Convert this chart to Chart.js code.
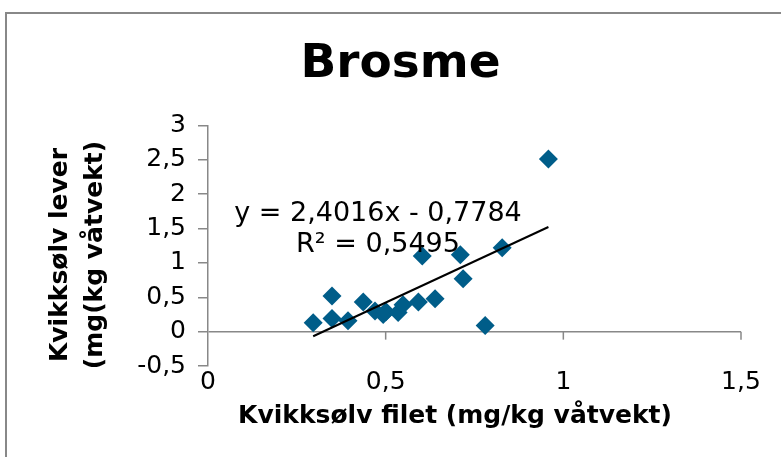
<!DOCTYPE html>
<html>
<head>
<meta charset="utf-8">
<script src="https://cdn.jsdelivr.net/npm/chart.js@4.4.1/dist/chart.umd.min.js"></script>
<style>
  html, body { margin: 0; padding: 0; background: #fff; }
  #wrap { width: 781px; height: 457px; }
</style>
</head>
<body>
<div id="wrap"><canvas id="chart"></canvas></div>
<script>
// mercury in fillet (x) vs liver (y), mg/kg wet weight
const filetX = [0.296, 0.349, 0.349, 0.394, 0.437, 0.470, 0.493, 0.501, 0.535, 0.549, 0.592, 0.639, 0.603, 0.710, 0.718, 0.828, 0.780, 0.958];
const leverY = [0.13, 0.52, 0.19, 0.16, 0.43, 0.30, 0.25, 0.29, 0.28, 0.39, 0.43, 0.48, 1.10, 1.12, 0.77, 1.22, 0.09, 2.51];

// Excel linear trendline shown on the chart
const slope = 2.4016;
const intercept = -0.7784;
const eqLines = ["y = 2,4016x - 0,7784", "R² = 0,5495"];

const chartTitle = "Brosme";
const xTitle = "Kvikksølv filet (mg/kg våtvekt)";
const yTitle = ["Kvikksølv lever", "(mg(kg våtvekt)"];
const xRange = [0, 1.5];
const yRange = [-0.5, 3];
const tickStep = 0.5;

const FONT = "'DejaVu Sans', Verdana, sans-serif";
const AXIS_GREY = "#888888";

const points = filetX.map((x, i) => ({ x: x, y: leverY[i] }));
const xMin = Math.min(...filetX);
const xMax = Math.max(...filetX);
const trend = [xMin, xMax].map((x) => ({ x: x, y: slope * x + intercept }));

const commaNum = (v) => String(v).replace(".", ",");

// frame, x tick marks on the zero line, axis titles and trendline equation
const extras = {
  id: "extras",
  beforeDraw(chart) {
    const ctx = chart.ctx;
    ctx.save();
    ctx.fillStyle = "#ffffff";
    ctx.fillRect(0, 0, chart.width, chart.height);
    ctx.strokeStyle = AXIS_GREY;
    ctx.lineWidth = 2;
    ctx.strokeRect(6, 13, 900, 900);
    ctx.restore();
  },
  afterDatasetsDraw(chart) {
    const ctx = chart.ctx;
    const xs = chart.scales.x;
    const ys = chart.scales.y;
    const y0 = ys.getPixelForValue(0);
    ctx.save();
    ctx.strokeStyle = AXIS_GREY;
    ctx.lineWidth = 1.5;
    xs.ticks.forEach((t) => {
      if (t.value === 0) return;
      const px = xs.getPixelForValue(t.value);
      ctx.beginPath();
      ctx.moveTo(px, y0);
      ctx.lineTo(px, y0 + 8);
      ctx.stroke();
    });

    ctx.fillStyle = "#000";
    ctx.textAlign = "center";
    ctx.textBaseline = "alphabetic";
    ctx.font = "27px " + FONT;
    ctx.fillText(eqLines[0], 378, 221);
    ctx.fillText(eqLines[1], 378, 252);

    ctx.font = "bold 25px " + FONT;
    ctx.textBaseline = "middle";
    ctx.fillText(xTitle, 455, 416);

    // y title, two rotated lines
    ctx.save();
    ctx.translate(0, 255);
    ctx.rotate(-Math.PI / 2);
    ctx.fillText(yTitle[0], 0, 60);
    ctx.fillText(yTitle[1], 0, 95);
    ctx.restore();
    ctx.restore();
  },
};

new Chart(document.getElementById("chart"), {
  type: "scatter",
  data: {
    datasets: [
      {
        type: "line",
        label: "Trend",
        data: trend,
        borderColor: "#000",
        borderWidth: 2,
        pointRadius: 0,
        order: 0,
      },
      {
        label: chartTitle,
        data: points,
        pointStyle: "rectRot",
        pointRadius: 9.5,
        pointHoverRadius: 9.5,
        backgroundColor: "#005D89",
        borderColor: "#005D89",
        borderWidth: 0,
        order: 1,
      },
    ],
  },
  options: {
    responsive: true,
    maintainAspectRatio: false,
    animation: false,
    layout: { padding: { left: 20, right: 0, top: 0, bottom: 0 } },
    plugins: {
      legend: { display: false },
      tooltip: { enabled: false },
      title: {
        display: true,
        text: chartTitle,
        color: "#000",
        font: { family: FONT, size: 47, weight: "bold" },
        padding: { top: 37, bottom: 32 },
      },
    },
    scales: {
      x: {
        type: "linear",
        position: "bottom",
        min: xRange[0],
        max: xRange[1],
        border: { display: false },
        grid: { display: false },
        ticks: {
          stepSize: tickStep,
          padding: -7,
          color: "#000",
          font: { family: FONT, size: 25 },
          callback: commaNum,
        },
        afterFit(s) {
          s.height = 91;
        },
      },
      y: {
        type: "linear",
        position: "left",
        min: yRange[0],
        max: yRange[1],
        border: { display: true, color: AXIS_GREY, width: 1.5 },
        grid: {
          drawOnChartArea: true,
          drawTicks: true,
          tickLength: 10,
          lineWidth: 1.5,
          color: (c) => (c.tick && c.tick.value === 0 ? AXIS_GREY : "rgba(0,0,0,0)"),
          tickColor: AXIS_GREY,
        },
        ticks: {
          stepSize: tickStep,
          padding: 12,
          color: "#000",
          font: { family: FONT, size: 25 },
          callback: commaNum,
        },
        afterFit(s) {
          s.width = 188;
        },
      },
      // empty right-hand axis, only keeps the plot clear of the right edge
      yRight: {
        type: "linear",
        position: "right",
        display: true,
        border: { display: false },
        grid: { display: false },
        ticks: { display: false },
        afterFit(s) {
          s.width = 40;
        },
      },
    },
  },
  plugins: [extras],
});
</script>
</body>
</html>
